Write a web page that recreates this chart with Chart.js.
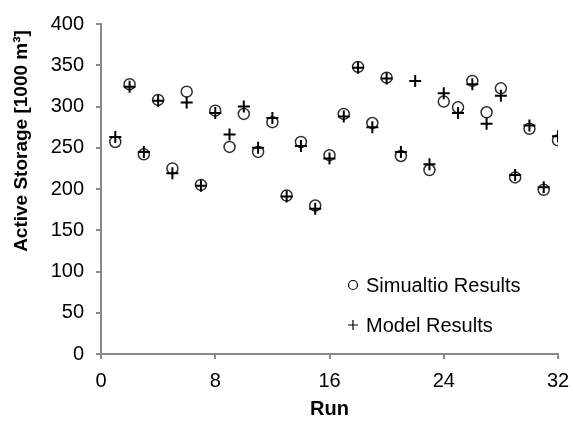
<!DOCTYPE html>
<html>
<head>
<meta charset="utf-8">
<script src="https://cdn.jsdelivr.net/npm/chart.js@4/dist/chart.umd.min.js"></script>
<style>
  html, body { margin: 0; padding: 0; background: #fff; }
  #wrap { width: 573px; height: 423px; position: relative; }
</style>
</head>
<body>
<div id="wrap"><canvas id="storageChart"></canvas></div>
<script>
// Run numbers and active storage per run [1000 m3]
const runs = [1, 2, 3, 4, 5, 6, 7, 8, 9, 10, 11, 12, 13, 14, 15, 16,
              17, 18, 19, 20, 21, 22, 23, 24, 25, 26, 27, 28, 29, 30, 31, 32];
const simulationResults = [257, 327, 242, 308, 225, 318, 205, 295, 251, 291, 245, 281, 192, 257, 180, 241,
                           291, 348, 280, 335, 240, null, 223, 306, 299, 331, 293, 322, 214, 273, 199, 259];
const modelResults = [263, 324, 245, 307, 219, 305, 204, 292, 266, 300, 250, 286, 191, 252, 176, 237,
                      288, 347, 275, 334, 245, 331, 230, 316, 292, 327, 279, 313, 217, 277, 202, 264];
const xTicks = [0, 8, 16, 24, 32];
const yTicks = [0, 50, 100, 150, 200, 250, 300, 350, 400];

const FONT = "'Liberation Sans', Arial, sans-serif";
const AXIS_GREY = '#8a8a8a';

const toPoints = (vals) => runs.map((r, i) => ({ x: r, y: vals[i] }));

// Rotated y-axis caption, placed a little above the axis middle
const yCaption = {
  id: 'yCaption',
  afterDraw(chart) {
    const ctx = chart.ctx;
    ctx.save();
    ctx.translate(22, 141);
    ctx.rotate(-Math.PI / 2);
    ctx.font = 'bold 19px ' + FONT;
    ctx.fillStyle = '#000';
    ctx.textAlign = 'center';
    ctx.textBaseline = 'middle';
    ctx.fillText('Active Storage [1000 m\u00B3]', 0, 0);
    ctx.restore();
  }
};

// Legend inside the plot area, lower right
const innerLegend = {
  id: 'innerLegend',
  afterDraw(chart) {
    const ctx = chart.ctx;
    const x = 353, rows = [285, 325];
    ctx.save();
    ctx.font = '20px ' + FONT;
    ctx.textBaseline = 'middle';
    ctx.fillStyle = '#000';
    chart.data.datasets.forEach((ds, i) => {
      const y = rows[i];
      ctx.strokeStyle = '#000';
      ctx.lineWidth = 1.2;
      ctx.beginPath();
      if (ds.pointStyle === 'circle') {
        ctx.arc(x, y, 4.5, 0, Math.PI * 2);
      } else {
        ctx.moveTo(x - 5, y); ctx.lineTo(x + 5, y);
        ctx.moveTo(x, y - 5); ctx.lineTo(x, y + 5);
      }
      ctx.stroke();
      ctx.fillText(ds.label, x + 13, y + 1);
    });
    ctx.restore();
  }
};

new Chart(document.getElementById('storageChart'), {
  type: 'scatter',
  data: {
    datasets: [
      {
        label: 'Simualtio Results',
        data: toPoints(simulationResults),
        pointStyle: 'circle',
        pointRadius: 5.5,
        pointBorderWidth: 1.5,
        borderColor: '#2e2e2e',
        backgroundColor: 'rgba(0,0,0,0)',
        order: 2
      },
      {
        label: 'Model Results',
        data: toPoints(modelResults),
        pointStyle: 'cross',
        pointRadius: 6,
        pointBorderWidth: 2,
        borderColor: '#000',
        backgroundColor: '#000',
        order: 1
      }
    ]
  },
  options: {
    responsive: true,
    maintainAspectRatio: false,
    animation: false,
    layout: { padding: { top: 17, right: 15, left: 0, bottom: 0 } },
    plugins: {
      legend: { display: false },
      tooltip: { enabled: false }
    },
    scales: {
      x: {
        type: 'linear',
        min: 0,
        max: 32,
        afterFit: (scale) => {
          scale.height = 69;
          // keep the end labels from shrinking the plot area
          scale.paddingLeft = 0;
          scale.paddingRight = 0;
        },
        afterBuildTicks: (scale) => { scale.ticks = xTicks.map(v => ({ value: v })); },
        border: { color: AXIS_GREY, width: 2 },
        grid: { drawOnChartArea: false, drawTicks: true, tickLength: 5, color: AXIS_GREY, lineWidth: 2 },
        ticks: { color: '#000', font: { family: FONT, size: 20 }, padding: 10, maxRotation: 0 },
        title: {
          display: true,
          text: 'Run',
          color: '#000',
          font: { family: FONT, size: 20, weight: 'bold' },
          padding: { top: 0, bottom: 2 }
        }
      },
      y: {
        type: 'linear',
        min: 0,
        max: 400,
        afterFit: (scale) => { scale.width = 101; },
        afterBuildTicks: (scale) => { scale.ticks = yTicks.map(v => ({ value: v })); },
        border: { color: AXIS_GREY, width: 2 },
        grid: { drawOnChartArea: false, drawTicks: true, tickLength: 5, color: AXIS_GREY, lineWidth: 2 },
        ticks: { color: '#000', font: { family: FONT, size: 20 }, padding: 12 }
      }
    }
  },
  plugins: [yCaption, innerLegend]
});
</script>
</body>
</html>
